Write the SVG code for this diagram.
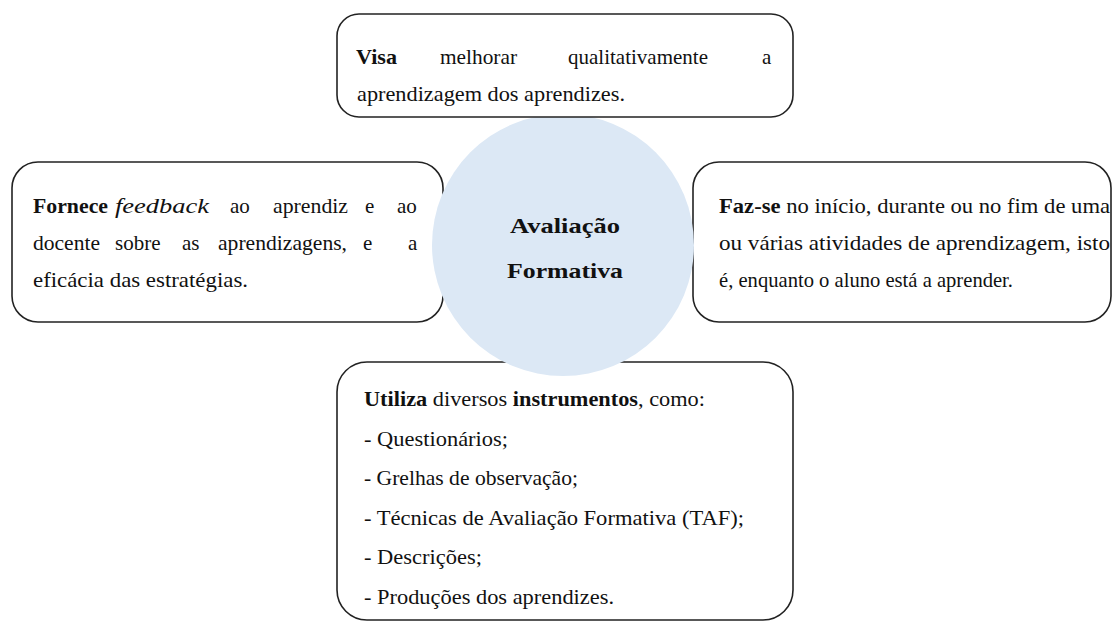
<svg xmlns="http://www.w3.org/2000/svg" width="1112" height="622" viewBox="0 0 1112 622">
  <style>
    .box { fill: #ffffff; stroke: #222222; stroke-width: 1.6; }
    .hub { fill: #dce8f5; stroke: none; }
    .t { font-family: "Liberation Serif", Tinos, "Times New Roman", "Noto Serif", "DejaVu Serif", serif; font-size: 21px; fill: #111111; }
    .b { font-weight: bold; }
    .i { font-style: italic; }
    .hubt { font-family: "Liberation Serif", Tinos, "Times New Roman", "Noto Serif", "DejaVu Serif", serif; font-size: 22px; font-weight: bold; fill: #111111; text-anchor: middle; }
  </style>
  <rect width="1112" height="622" fill="#ffffff"/>
  <g id="connectors"/>

  <g id="node-left">
    <rect class="box" x="12" y="162" width="431" height="160" rx="26" ry="26"/>
    <text class="t" y="213"><tspan class="b" x="33" textLength="75" lengthAdjust="spacingAndGlyphs">Fornece</tspan><tspan class="i" x="115" textLength="94" lengthAdjust="spacingAndGlyphs">feedback</tspan><tspan x="230">ao</tspan><tspan x="273" textLength="75" lengthAdjust="spacingAndGlyphs">aprendiz</tspan><tspan x="365">e</tspan><tspan x="397">ao</tspan></text>
    <text class="t" y="250"><tspan x="33" textLength="67" lengthAdjust="spacingAndGlyphs">docente</tspan><tspan x="115">sobre</tspan><tspan x="182">as</tspan><tspan x="218" textLength="129" lengthAdjust="spacingAndGlyphs">aprendizagens,</tspan><tspan x="363">e</tspan><tspan x="408">a</tspan></text>
    <text class="t" x="33" y="287" textLength="215" lengthAdjust="spacingAndGlyphs">eficácia das estratégias.</text>
  </g>

  <g id="node-right">
    <rect class="box" x="693" y="162" width="418" height="160" rx="26" ry="26"/>
    <text class="t" x="719" y="213" textLength="391" lengthAdjust="spacingAndGlyphs"><tspan class="b">Faz-se</tspan> no início, durante ou no fim de uma</text>
    <text class="t" x="719" y="250" textLength="391" lengthAdjust="spacingAndGlyphs">ou várias atividades de aprendizagem, isto</text>
    <text class="t" x="719" y="287" textLength="294" lengthAdjust="spacingAndGlyphs">é, enquanto o aluno está a aprender.</text>
  </g>

  <g id="node-bottom">
    <rect class="box" x="337" y="362" width="456" height="258" rx="30" ry="30"/>
    <text class="t" x="364" y="406" textLength="341" lengthAdjust="spacingAndGlyphs"><tspan class="b">Utiliza</tspan> diversos <tspan class="b">instrumentos</tspan>, como:</text>
    <text class="t" x="364" y="445.6" textLength="144" lengthAdjust="spacingAndGlyphs">- Questionários;</text>
    <text class="t" x="364" y="485.2" textLength="214" lengthAdjust="spacingAndGlyphs">- Grelhas de observação;</text>
    <text class="t" x="364" y="524.8" textLength="380" lengthAdjust="spacingAndGlyphs">- Técnicas de Avaliação Formativa (TAF);</text>
    <text class="t" x="364" y="564.4" textLength="118" lengthAdjust="spacingAndGlyphs">- Descrições;</text>
    <text class="t" x="364" y="604" textLength="250" lengthAdjust="spacingAndGlyphs">- Produções dos aprendizes.</text>
  </g>

  <g id="node-center">
    <circle class="hub" cx="563" cy="245" r="131"/>
    <text class="hubt" x="565" y="233" textLength="110" lengthAdjust="spacingAndGlyphs">Avaliação</text>
    <text class="hubt" x="565" y="278" textLength="116" lengthAdjust="spacingAndGlyphs">Formativa</text>
  </g>

  <g id="node-top">
    <rect class="box" x="337" y="14" width="456" height="103" rx="22" ry="22"/>
    <text class="t" y="64"><tspan class="b" x="356" textLength="41" lengthAdjust="spacingAndGlyphs">Visa</tspan><tspan x="440" textLength="77" lengthAdjust="spacingAndGlyphs">melhorar</tspan><tspan x="568" textLength="140" lengthAdjust="spacingAndGlyphs">qualitativamente</tspan><tspan x="762">a</tspan></text>
    <text class="t" x="357" y="101" textLength="268" lengthAdjust="spacingAndGlyphs">aprendizagem dos aprendizes.</text>
  </g>
</svg>
